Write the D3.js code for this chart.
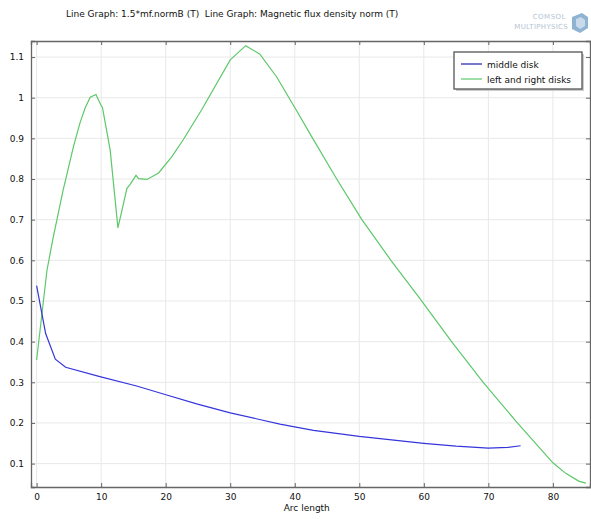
<!DOCTYPE html>
<html>
<head>
<meta charset="utf-8">
<script src="https://cdn.jsdelivr.net/npm/d3@7"></script>
<style>
  body { margin: 0; background: #fff; }
  text { font-family: "DejaVu Sans", sans-serif; }
</style>
</head>
<body>
<script>
// values
var middleX = [0, 1.4, 2.9, 4.5, 9.8, 15.5, 19.9, 24.8, 30, 37.7, 42.9, 50, 60, 65, 70, 73, 75];
var middleY = [0.538, 0.42, 0.357, 0.337, 0.314, 0.291, 0.27, 0.247, 0.225, 0.197, 0.182, 0.167, 0.15, 0.143, 0.138, 0.14, 0.144];

var sideX = [0, 1.6, 2.5, 4.1, 5.7, 6.7, 7.5, 8.3, 9.2, 9.9, 10.2, 11.4, 12.6, 14.0, 14.5, 15.4, 15.8, 17.1, 18.9, 20.9, 22.7, 25.6, 30, 32.4, 34.6, 37.2, 40, 42.6, 46.5, 50.4, 54.9, 59.4, 64.3, 69.2, 74.5, 80, 82, 84, 85.1];
var sideY = [0.355, 0.575, 0.651, 0.772, 0.879, 0.937, 0.974, 1.001, 1.008, 0.984, 0.976, 0.871, 0.68, 0.777, 0.787, 0.809, 0.801, 0.799, 0.815, 0.854, 0.896, 0.971, 1.093, 1.128, 1.107, 1.051, 0.976, 0.905, 0.8, 0.7, 0.6, 0.506, 0.4, 0.3, 0.2, 0.102, 0.076, 0.057, 0.052];

var xTicks = [0, 10, 20, 30, 40, 50, 60, 70, 80];
var yTicks = [0.1, 0.2, 0.3, 0.4, 0.5, 0.6, 0.7, 0.8, 0.9, 1, 1.1];

var seriesNames = ['middle disk', 'left and right disks'];
var seriesColors = ['#3535dc', '#5cc86a'];
var legendColors = ['#1c1ca8', '#5cc86a'];

var titleText = 'Line Graph: 1.5*mf.normB (T)  Line Graph: Magnetic flux density norm (T)';
var xLabel = 'Arc length';

var W = 591, H = 519;
var plot = {left: 31, right: 590, top: 41, bottom: 487};

var svg = d3.select('body').append('svg')
    .attr('width', W)
    .attr('height', H);

var x = d3.scaleLinear().domain([-0.87, 85.75]).range([plot.left, plot.right]);
var y = d3.scaleLinear().domain([0.0425, 1.1395]).range([plot.bottom, plot.top]);

// grid
svg.append('g').selectAll('line').data(xTicks).enter().append('line')
    .attr('x1', d => x(d)).attr('x2', d => x(d))
    .attr('y1', plot.top).attr('y2', plot.bottom)
    .attr('stroke', '#e8e8e8').attr('stroke-width', 1);
svg.append('g').selectAll('line').data(yTicks).enter().append('line')
    .attr('x1', plot.left).attr('x2', plot.right)
    .attr('y1', d => y(d)).attr('y2', d => y(d))
    .attr('stroke', '#e8e8e8').attr('stroke-width', 1);

// axes (inward ticks)
var xb = svg.append('g').attr('transform', 'translate(0,' + plot.bottom + ')')
    .call(d3.axisBottom(x).tickValues(xTicks).tickSize(-4).tickPadding(7).tickFormat(d3.format('d')));
var xt = svg.append('g').attr('transform', 'translate(0,' + plot.top + ')')
    .call(d3.axisTop(x).tickValues(xTicks).tickSize(-4).tickFormat(''));
var yl = svg.append('g').attr('transform', 'translate(' + plot.left + ',0)')
    .call(d3.axisLeft(y).tickValues(yTicks).tickSize(-4).tickPadding(7).tickFormat(d => d3.format('')(+d.toFixed(1))));
var yr = svg.append('g').attr('transform', 'translate(' + plot.right + ',0)')
    .call(d3.axisRight(y).tickValues(yTicks).tickSize(-4).tickFormat(''));

[xb, xt, yl, yr].forEach(function(g){
    g.select('.domain').attr('stroke', '#666').attr('stroke-width', 1.3);
    g.selectAll('.tick line').attr('stroke', '#666');
    g.selectAll('.tick text').attr('fill', '#111').style('font-size', '9px').style('font-family', '"DejaVu Sans", sans-serif');
});

// lines
var line = d3.line().x(d => x(d[0])).y(d => y(d[1]));
svg.append('clipPath').attr('id', 'clip').append('rect')
    .attr('x', plot.left).attr('y', plot.top)
    .attr('width', plot.right - plot.left).attr('height', plot.bottom - plot.top);

var middleData = middleX.map((v, i) => [v, middleY[i]]);
var sideData = sideX.map((v, i) => [v, sideY[i]]);

svg.append('path').datum(sideData)
    .attr('d', line).attr('fill', 'none')
    .attr('stroke', seriesColors[1]).attr('stroke-width', 1.2)
    .attr('clip-path', 'url(#clip)');
svg.append('path').datum(middleData)
    .attr('d', line).attr('fill', 'none')
    .attr('stroke', seriesColors[0]).attr('stroke-width', 1.2)
    .attr('clip-path', 'url(#clip)');

// title + axis label
svg.append('text').attr('x', 66).attr('y', 17)
    .style('font-size', '9px').style('white-space', 'pre').attr('fill', '#111')
    .text(titleText);
svg.append('text').attr('x', x(40) + 12).attr('y', 511)
    .attr('text-anchor', 'middle')
    .style('font-size', '9px').attr('fill', '#111')
    .text(xLabel);

// legend
var lg = svg.append('g').attr('transform', 'translate(454,52)');
lg.append('rect').attr('x', 2).attr('y', 2).attr('width', 128).attr('height', 37)
    .attr('fill', '#ccc');
lg.append('rect').attr('width', 128).attr('height', 37)
    .attr('fill', '#fff').attr('stroke', '#555').attr('stroke-width', 1.3);
seriesNames.forEach(function(name, i){
    var yy = 12 + i * 15;
    lg.append('line').attr('x1', 7).attr('x2', 28).attr('y1', yy).attr('y2', yy)
        .attr('stroke', legendColors[i]).attr('stroke-width', 1.2);
    lg.append('text').attr('x', 33).attr('y', yy + 3.5)
        .style('font-size', '9px').attr('fill', '#111').text(name);
});

// logo
var logo = svg.append('g').attr('transform', 'translate(500,8)');
logo.append('text').attr('x', 66).attr('y', 11).attr('text-anchor', 'end')
    .style('font-size', '7px').attr('fill', '#b4c4d4').style('letter-spacing', '0.5px').text('COMSOL');
logo.append('text').attr('x', 68).attr('y', 21).attr('text-anchor', 'end')
    .style('font-size', '7px').attr('fill', '#b4c4d4').style('letter-spacing', '0.3px').text('MULTIPHYSICS');
logo.append('path').attr('d', 'M72,9 L82,5 L88,9 L88,20 L80,25 L72,21 Z').attr('fill', '#8fb3d3');
logo.append('path').attr('d', 'M76,11 L81,9 L85,12 L85,18 L80,21 L76,18 Z').attr('fill', '#c9dbea');
</script>
</body>
</html>
